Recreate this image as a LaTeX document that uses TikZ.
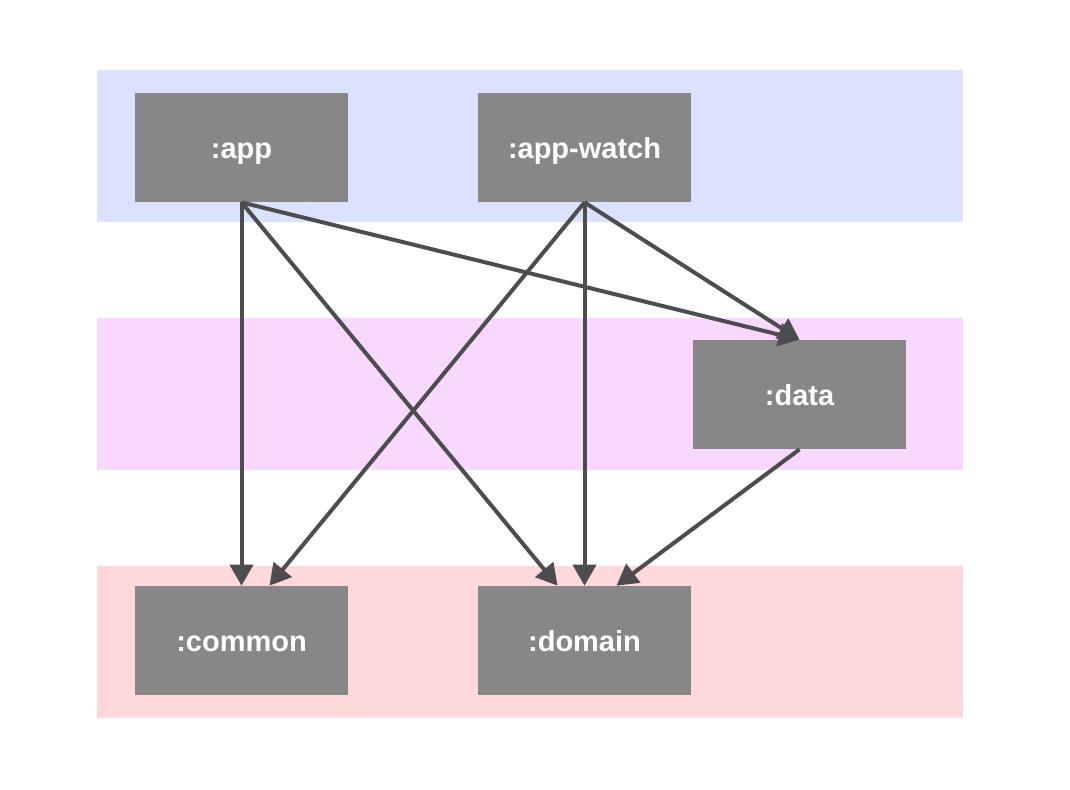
\documentclass[tikz,border=0pt]{standalone}
\usepackage{fontspec}
\setmainfont{Liberation Sans}
\usepackage{tikz}
\usetikzlibrary{arrows.meta}
\definecolor{bandBlue}{HTML}{DAE2FF}
\definecolor{bandPink}{HTML}{F9D8FF}
\definecolor{bandRed}{HTML}{FFD8D9}
\definecolor{boxGray}{HTML}{878787}
\definecolor{edgeGray}{HTML}{4D4D4F}

\begin{document}
\begin{tikzpicture}[x=0.02cm,y=-0.02cm]
    \tikzstyle{band}  = [draw=none]
    \tikzstyle{dedge} = [line width=0.08cm,draw=edgeGray,
      -{Triangle[length=0.42cm,width=0.46cm]}]
    \tikzstyle{module}=[
      rectangle,
      fill=boxGray,
      text=white,
      anchor=center,
      inner sep=0pt,
      text height=12pt,
      text depth=0pt,
      minimum width=4.26cm,
      minimum height=2.18cm,
      font=\fontsize{16.5}{19}\selectfont\bfseries,
    ]

    \useasboundingbox (0,0) rectangle (1070,789);

    % layers
    \fill[band,bandBlue] (97,70) rectangle (963,222);
    \fill[band,bandPink] (97,318) rectangle (963,470);
    \fill[band,bandRed]  (97,566) rectangle (963,718);

    \node[module] (nApp) at (241.5,147.5) {:app};
    \node[module] (nAppWatch) at (584.5,147.5) {:app-watch};
    \node[module] (nData) at (799.5,394.5) {:data};
    \node[module] (nCommon) at (241.5,640.5) {:common};
    \node[module] (nDomain) at (584.5,640.5) {:domain};

    \draw[dedge] (nApp.south)--(nCommon.north);
    \draw[dedge] (nApp.south)--([xshift=-0.54cm]nDomain.north);
    \draw[dedge] (nApp.south)--(nData.north);
    \draw[dedge] (nAppWatch.south)--([xshift=0.56cm]nCommon.north);
    \draw[dedge] (nAppWatch.south)--(nDomain.north);
    \draw[dedge] (nAppWatch.south)--(nData.north);
    \draw[dedge] (nData.south)--([xshift=0.64cm]nDomain.north);
\end{tikzpicture}
\end{document}
